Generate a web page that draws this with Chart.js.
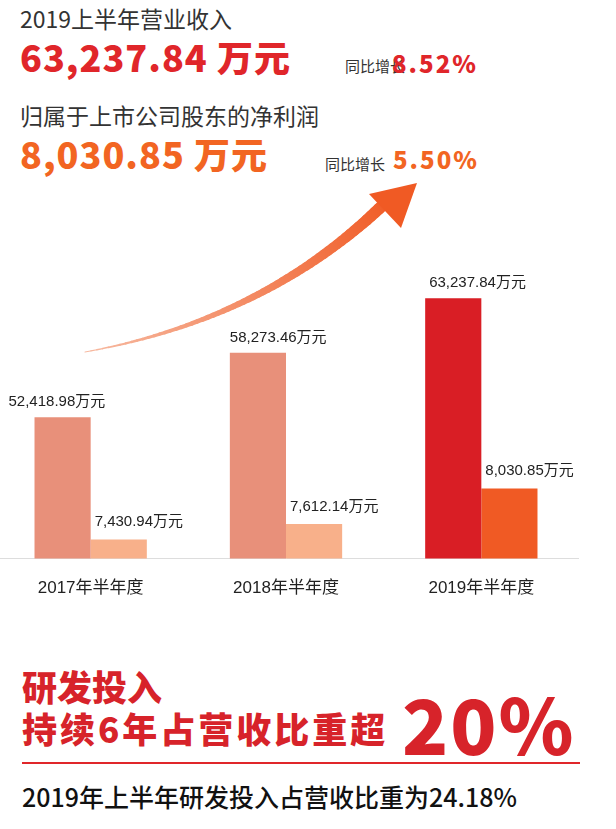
<!DOCTYPE html>
<html><head><meta charset="utf-8">
<script src="https://cdn.jsdelivr.net/npm/chart.js@4"></script>
<style>
body{margin:0;width:616px;height:829px;background:#fff;position:relative;overflow:hidden;font-family:"Noto Sans CJK SC","Noto Sans",sans-serif;}
.t{position:absolute;white-space:nowrap;line-height:1;}
</style></head><body>
<div class="t" style="left:20px;top:7px;font-size:23px;color:#333;">2019上半年营业收入</div>
<div class="t" style="left:20px;top:38px;font-size:36px;font-weight:900;color:#E0262A;letter-spacing:1px;">63,237.84 万元</div>
<div class="t" style="left:345px;top:58px;font-size:15px;color:#333;">同比增长</div>
<div class="t" style="left:392px;top:51px;font-size:24px;font-weight:900;color:#E0262A;letter-spacing:2px;">8.52%</div>
<div class="t" style="left:20px;top:104px;font-size:23px;color:#333;">归属于上市公司股东的净利润</div>
<div class="t" style="left:20px;top:135px;font-size:36px;font-weight:900;color:#F26522;letter-spacing:1px;">8,030.85 万元</div>
<div class="t" style="left:325px;top:156px;font-size:15px;color:#333;">同比增长</div>
<div class="t" style="left:393px;top:147px;font-size:24px;font-weight:900;color:#F26522;letter-spacing:2px;">5.50%</div>

<div style="position:absolute;left:-7px;top:180px;width:586px;height:439px;"><canvas id="c"></canvas></div>

<div class="t" style="left:22px;top:668px;font-size:35px;font-weight:900;color:#D7232A;">研发投入</div>
<div class="t" style="left:22px;top:710px;font-size:35px;font-weight:900;color:#D7232A;letter-spacing:3px;">持续6年占营收比重超</div>
<div class="t" style="left:402px;top:684px;font-size:76px;font-weight:900;color:#D7232A;letter-spacing:2px;">20%</div>
<div style="position:absolute;left:22px;top:762px;width:558px;height:2px;background:#E0262A;"></div>
<div class="t" style="left:22px;top:784px;font-size:25px;font-weight:500;color:#111;">2019年上半年研发投入占营收比重为24.18%</div>

<script>
const categories=["2017年半年度","2018年半年度","2019年半年度"];
const revenue=[52418.98,58273.46,63237.84];
const profit=[7430.94,7612.14,8030.85];
const revenueLabels=["52,418.98万元","58,273.46万元","63,237.84万元"];
const profitLabels=["7,430.94万元","7,612.14万元","8,030.85万元"];
const revColors=["#E8907A","#E8907A","#D91E25"];
const profColors=["#F8B08A","#F8B08A","#F05A24"];

const labelPlugin={id:"lbl",afterDatasetsDraw(ch){
  const c=ch.ctx;c.save();c.font="15px 'Liberation Sans','Noto Sans CJK SC'";c.fillStyle="#222";c.textBaseline="bottom";
  const m0=ch.getDatasetMeta(0),m1=ch.getDatasetMeta(1);
  const offs=[-26,0,4];
  m0.data.forEach((b,i)=>{c.textAlign="left";c.fillText(revenueLabels[i],b.x-b.width/2+offs[i],b.y-8);});
  m1.data.forEach((b,i)=>{c.textAlign="left";c.fillText(profitLabels[i],b.x-b.width/2+4,b.y-10);});
  c.restore();
}};
const arrowPlugin={id:"arrow",afterDraw(ch){
  const c=ch.ctx;c.save();
  const P0=[92,172],P1=[270,140],P2=[390,25];
  const g=c.createLinearGradient(92,172,400,10);g.addColorStop(0,"#F7B9A0");g.addColorStop(1,"#F05A24");
  c.strokeStyle=g;c.lineCap="round";
  const N=60;
  const pt=t=>[(1-t)*(1-t)*P0[0]+2*(1-t)*t*P1[0]+t*t*P2[0],(1-t)*(1-t)*P0[1]+2*(1-t)*t*P1[1]+t*t*P2[1]];
  for(let i=0;i<N;i++){const a=pt(i/N),b=pt((i+1)/N);c.lineWidth=1+11*(i/N);c.beginPath();c.moveTo(a[0],a[1]);c.lineTo(b[0],b[1]);c.stroke();}
  c.fillStyle="#F05A24";c.beginPath();c.moveTo(424,3);c.lineTo(376,14);c.lineTo(408,48);c.closePath();c.fill();
  c.restore();
}};
new Chart(document.getElementById("c"),{type:"bar",
 data:{labels:categories,datasets:[
  {data:revenue,backgroundColor:revColors,yAxisID:"y"},
  {data:profit,backgroundColor:profColors,yAxisID:"y2"}]},
 options:{responsive:true,maintainAspectRatio:false,animation:false,
  categoryPercentage:0.575,barPercentage:1,
  layout:{padding:0},
  plugins:{legend:{display:false},tooltip:{enabled:false}},
  scales:{
   x:{grid:{display:false,drawTicks:false},border:{display:true,color:"#ddd"},ticks:{padding:20,color:"#222",font:{size:17,family:"'Liberation Sans','Noto Sans CJK SC'"}}},
   y:{display:false,min:39600,max:73964},
   y2:{display:false,min:7206,max:11653}
  }},
 plugins:[labelPlugin,arrowPlugin]});
</script></body></html>
